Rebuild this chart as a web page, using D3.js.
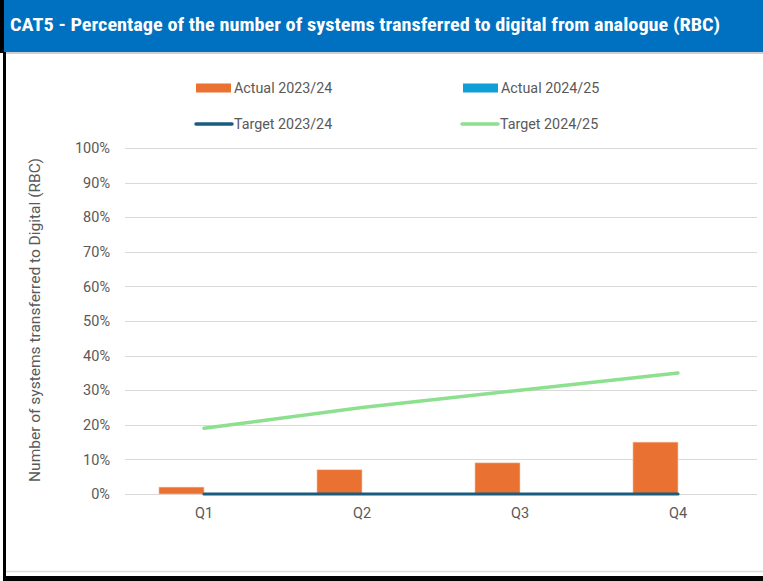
<!DOCTYPE html>
<html>
<head>
<meta charset="utf-8">
<script src="https://cdn.jsdelivr.net/npm/d3@7"></script>
<style>
  html, body { margin: 0; padding: 0; background: #fff; }
  svg { display: block; }
</style>
</head>
<body>
<script>
// Quarterly categories and series
const quarters = ["Q1", "Q2", "Q3", "Q4"];
const actual2324 = [2, 7, 9, 15];
const actual2425 = [null, null, null, null];
const target2324 = [0, 0, 0, 0];
const target2425 = [19, 25, 30, 35];
const yTicks = [0, 10, 20, 30, 40, 50, 60, 70, 80, 90, 100];

const titleText = "CAT5 - Percentage of the number of systems transferred to digital from analogue (RBC)";
const yTitle = "Number of systems transferred to Digital (RBC)";

const W = 763, H = 581;
const colors = {
  orange: "#E97132",
  blue: "#0F9ED5",
  navy: "#185C80",
  green: "#8CE08F",
  grid: "#D9D9D9",
  text: "#595959"
};

const svg = d3.select("body").append("svg").attr("width", W).attr("height", H);

// Frame: title band, borders
svg.append("rect").attr("x", 0).attr("y", 0).attr("width", W).attr("height", H).attr("fill", "#fff");
svg.append("rect").attr("x", 0).attr("y", 0).attr("width", W).attr("height", 52).attr("fill", "#0070C0");
svg.append("line").attr("x1", 4).attr("x2", W).attr("y1", 53).attr("y2", 53)
  .attr("stroke", "#BFBFBF").attr("stroke-width", 1.5);
svg.append("rect").attr("x", 0).attr("y", 0).attr("width", 4).attr("height", 53).attr("fill", "#000");
svg.append("rect").attr("x", 3).attr("y", 52).attr("width", 3).attr("height", H - 52).attr("fill", "#000");
svg.append("line").attr("x1", 6).attr("x2", W).attr("y1", 571.5).attr("y2", 571.5)
  .attr("stroke", "#D9D9D9").attr("stroke-width", 1.5);
svg.append("rect").attr("x", 3).attr("y", 576).attr("width", W).attr("height", 5).attr("fill", "#000");

svg.append("text")
  .attr("x", 10).attr("y", 31)
  .attr("fill", "#fff")
  .attr("font-family", "'Liberation Sans Narrow', 'Roboto Condensed', Arial, sans-serif")
  .attr("font-weight", "bold")
  .attr("font-size", 18)
  .attr("textLength", 710)
  .attr("lengthAdjust", "spacingAndGlyphs")
  .text(titleText);

// Plot area
const plot = { left: 125, right: 757, top: 148, bottom: 494 };

const x = d3.scaleBand().domain(quarters).range([plot.left, plot.right]).padding(0);
const bw = x.bandwidth();
const seriesKeys = ["a2324", "a2425"];
const x1 = d3.scaleBand().domain(seriesKeys).range([bw * 0.215, bw * 0.785]).padding(0);
const y = d3.scaleLinear().domain([0, 100]).range([plot.bottom, plot.top]);

const font = "Roboto, 'Liberation Sans', sans-serif";

// Gridlines
svg.append("g").selectAll("line").data(yTicks).join("line")
  .attr("x1", plot.left).attr("x2", plot.right)
  .attr("y1", d => Math.round(y(d)) + 0.5).attr("y2", d => Math.round(y(d)) + 0.5)
  .attr("stroke", colors.grid).attr("stroke-width", 1);

// Y axis labels
const yAxis = d3.axisLeft(y).tickValues(yTicks).tickFormat(d => d + "%").tickSize(0).tickPadding(0);
const gy = svg.append("g").attr("transform", `translate(110,0)`).call(yAxis);
gy.select(".domain").remove();
gy.selectAll("text")
  .attr("fill", colors.text)
  .attr("font-family", font)
  .attr("font-size", 14.5);

// X axis labels
const xAxis = d3.axisBottom(x).tickSize(0).tickPadding(0);
const gx = svg.append("g").attr("transform", `translate(0,508)`).call(xAxis);
gx.select(".domain").remove();
gx.selectAll("text")
  .attr("fill", colors.text)
  .attr("font-family", font)
  .attr("font-size", 14.5);

// Y axis title
svg.append("text")
  .attr("transform", `translate(40,${(plot.top + plot.bottom) / 2 - 1}) rotate(-90)`)
  .attr("text-anchor", "middle")
  .attr("fill", colors.text)
  .attr("font-family", font)
  .attr("font-size", 15.5)
  .text(yTitle);

// Bars
const barData = [];
quarters.forEach((q, i) => {
  barData.push({ q, key: "a2324", v: actual2324[i], c: colors.orange });
  barData.push({ q, key: "a2425", v: actual2425[i], c: colors.blue });
});
svg.append("g").selectAll("rect").data(barData.filter(d => d.v != null)).join("rect")
  .attr("x", d => x(d.q) + x1(d.key))
  .attr("width", x1.bandwidth())
  .attr("y", d => y(d.v))
  .attr("height", d => y(0) - y(d.v))
  .attr("fill", d => d.c)
  .attr("stroke", "#F8CBAD").attr("stroke-width", 0.6);

// Target lines
const line = d3.line()
  .x((d, i) => x(quarters[i]) + bw / 2)
  .y(d => y(d));

svg.append("path").datum(target2324)
  .attr("d", line).attr("fill", "none")
  .attr("stroke", colors.navy).attr("stroke-width", 3.2).attr("stroke-linecap", "round");
svg.append("path").datum(target2425)
  .attr("d", line).attr("fill", "none")
  .attr("stroke", colors.green).attr("stroke-width", 3.5).attr("stroke-linecap", "round");

// Legend
const legendItems = [
  { label: "Actual 2023/24", type: "rect", c: colors.orange, x: 196, y: 88 },
  { label: "Actual 2024/25", type: "rect", c: colors.blue, x: 463, y: 88 },
  { label: "Target 2023/24", type: "line", c: colors.navy, x: 196, y: 124 },
  { label: "Target 2024/25", type: "line", c: colors.green, x: 462, y: 124 }
];
const lg = svg.append("g").selectAll("g").data(legendItems).join("g")
  .attr("transform", d => `translate(${d.x},${d.y})`);
lg.filter(d => d.type === "rect").append("rect")
  .attr("x", 0).attr("y", -4.5).attr("width", 35).attr("height", 9).attr("fill", d => d.c);
lg.filter(d => d.type === "line").append("line")
  .attr("x1", 0).attr("x2", 36).attr("y1", 0).attr("y2", 0)
  .attr("stroke", d => d.c).attr("stroke-width", 3.5).attr("stroke-linecap", "round");
lg.append("text")
  .attr("x", 38).attr("y", 0).attr("dy", "0.35em")
  .attr("fill", colors.text)
  .attr("font-family", font)
  .attr("font-size", 14.3)
  .text(d => d.label);
</script>
</body>
</html>
